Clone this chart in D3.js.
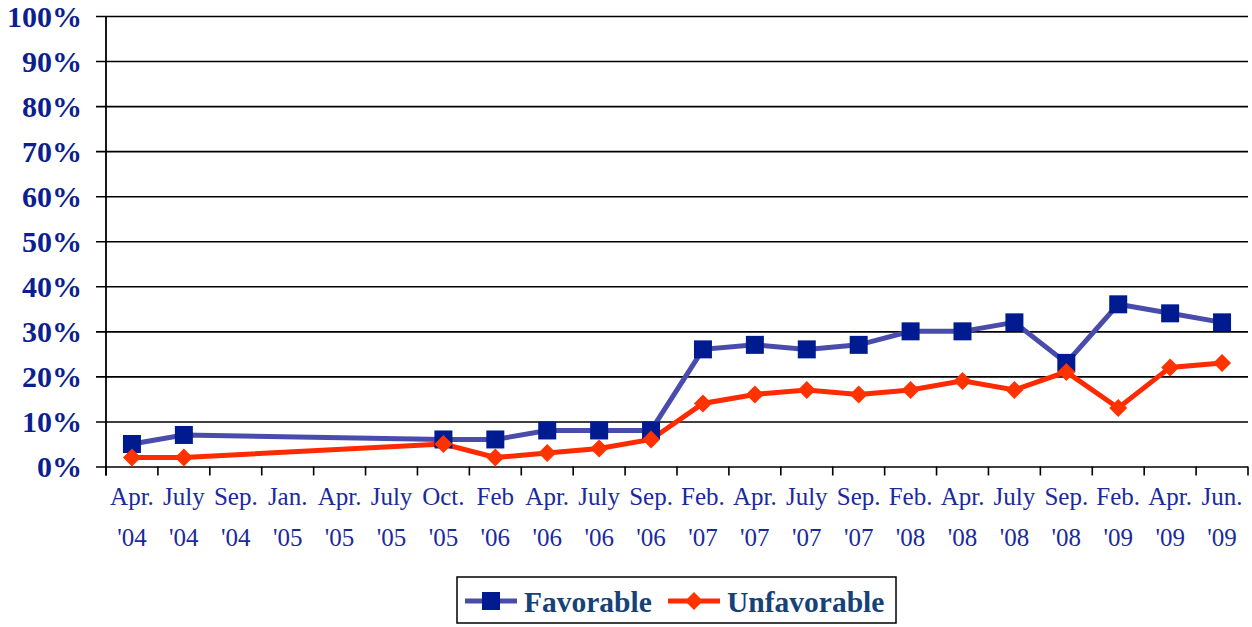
<!DOCTYPE html>
<html>
<head>
<meta charset="utf-8">
<script src="https://cdn.jsdelivr.net/npm/d3@7"></script>
<style>
  body { margin: 0; background: #fff; }
  svg { display: block; }
  svg text { font-family: "Liberation Serif", "Times New Roman", Times, "DejaVu Serif", serif; }
</style>
</head>
<body>
<div id="chart"></div>
<script>
var categories = ["Apr. '04", "July '04", "Sep. '04", "Jan. '05", "Apr. '05", "July '05", "Oct. '05",
    "Feb '06", "Apr. '06", "July '06", "Sep. '06", "Feb. '07", "Apr. '07", "July '07", "Sep. '07",
    "Feb. '08", "Apr. '08", "July '08", "Sep. '08", "Feb. '09", "Apr. '09", "Jun. '09"];
// null = no poll that month, line is drawn straight across
var favorable = [5, 7, null, null, null, null, 6, 6, 8, 8, 8, 26, 27, 26, 27, 30, 30, 32, 23, 36, 34, 32];
var unfavorable = [2, 2, null, null, null, null, 5, 2, 3, 4, 6, 14, 16, 17, 16, 17, 19, 17, 21, 13, 22, 23];
var yTicks = [0, 10, 20, 30, 40, 50, 60, 70, 80, 90, 100];

var w = 1252, h = 627;
var plotLeft = 106, plotRight = 1248, plotTop = 16, plotBottom = 466.5;

var svg = d3.select("#chart")
    .append("svg")
    .attr("width", w)
    .attr("height", h);

var x = d3.scaleBand()
    .domain(categories)
    .range([plotLeft, plotRight])
    .padding(0);

var y = d3.scaleLinear()
    .domain([0, 100])
    .range([plotBottom, plotTop]);

// gridlines + y labels
var yAxis = svg.append("g")
    .attr("transform", "translate(" + plotRight + ",0)")
    .call(d3.axisLeft(y)
        .tickValues(yTicks)
        .tickSize(plotRight - 96)
        .tickPadding(14)
        .tickFormat(function(d) { return d + "%"; }));
yAxis.attr("font-family", null);
yAxis.select(".domain").remove();
yAxis.selectAll(".tick line")
    .attr("stroke", "#000")
    .attr("stroke-width", 1.6);
yAxis.selectAll(".tick text")
    .style("font-weight", "bold")
    .style("font-size", "30px")
    .attr("fill", "#0c1f8f")
    .attr("dy", "0.34em");

// vertical axis line
svg.append("line")
    .attr("x1", plotLeft).attr("x2", plotLeft)
    .attr("y1", plotTop).attr("y2", plotBottom + 9)
    .attr("stroke", "#000")
    .attr("stroke-width", 1.8);

// x tick marks at category boundaries
var bounds = categories.map(function(c) { return x(c); }).concat([plotRight]);
svg.selectAll(".xtick")
    .data(bounds)
    .enter()
    .append("line")
    .attr("class", "xtick")
    .attr("x1", function(d) { return d; })
    .attr("x2", function(d) { return d; })
    .attr("y1", plotBottom)
    .attr("y2", plotBottom + 9)
    .attr("stroke", "#000")
    .attr("stroke-width", 1.6);

// x labels, two lines each
var xl = svg.selectAll(".xlabel")
    .data(categories)
    .enter()
    .append("text")
    .attr("class", "xlabel")
    .attr("text-anchor", "middle")
    .style("font-size", "25px")
    .attr("fill", "#1a2a9c");
xl.append("tspan")
    .attr("x", function(d) { return x(d) + x.bandwidth() / 2; })
    .attr("y", 505)
    .text(function(d) { return d.split(" ")[0]; });
xl.append("tspan")
    .attr("x", function(d) { return x(d) + x.bandwidth() / 2; })
    .attr("y", 546)
    .text(function(d) { return d.split(" ")[1]; });

function points(values) {
    return categories.map(function(c, i) { return { c: c, v: values[i] }; })
        .filter(function(d) { return d.v != null; });
}

var line = d3.line()
    .x(function(d) { return x(d.c) + x.bandwidth() / 2; })
    .y(function(d) { return y(d.v); });

var favPts = points(favorable);
var unfPts = points(unfavorable);

svg.append("path")
    .datum(favPts)
    .attr("d", line)
    .attr("fill", "none")
    .attr("stroke", "#4a4cab")
    .attr("stroke-width", 5);

svg.append("path")
    .datum(unfPts)
    .attr("d", line)
    .attr("fill", "none")
    .attr("stroke", "#ff2a00")
    .attr("stroke-width", 5);

var square = d3.symbol().type(d3.symbolSquare).size(18 * 18);
var diamond = "M0,-9L9,0L0,9L-9,0Z";

svg.selectAll(".fav")
    .data(favPts)
    .enter()
    .append("path")
    .attr("class", "fav")
    .attr("d", square)
    .attr("transform", function(d) { return "translate(" + (x(d.c) + x.bandwidth() / 2) + "," + y(d.v) + ")"; })
    .attr("fill", "#001a8f");

svg.selectAll(".unf")
    .data(unfPts)
    .enter()
    .append("path")
    .attr("class", "unf")
    .attr("d", diamond)
    .attr("transform", function(d) { return "translate(" + (x(d.c) + x.bandwidth() / 2) + "," + y(d.v) + ")"; })
    .attr("fill", "#ff3300");

// legend
var legend = svg.append("g");
legend.append("rect")
    .attr("x", 457).attr("y", 577)
    .attr("width", 439).attr("height", 46)
    .attr("fill", "#fff")
    .attr("stroke", "#000")
    .attr("stroke-width", 1.5);

var items = [
    { name: "Favorable", lx: 465, tx: 524, color: "#4a4cab", mark: "#001a8f", shape: square },
    { name: "Unfavorable", lx: 668, tx: 727, color: "#ff2a00", mark: "#ff3300", shape: diamond }
];
items.forEach(function(it) {
    legend.append("line")
        .attr("x1", it.lx).attr("x2", it.lx + 52)
        .attr("y1", 601).attr("y2", 601)
        .attr("stroke", it.color)
        .attr("stroke-width", 5);
    legend.append("path")
        .attr("d", it.shape)
        .attr("transform", "translate(" + (it.lx + 26) + ",601)")
        .attr("fill", it.mark);
    legend.append("text")
        .attr("x", it.tx)
        .attr("y", 612)
        .style("font-weight", "bold")
        .style("font-size", "29.5px")
        .attr("fill", "#16427a")
        .text(it.name);
});
</script>
</body>
</html>
